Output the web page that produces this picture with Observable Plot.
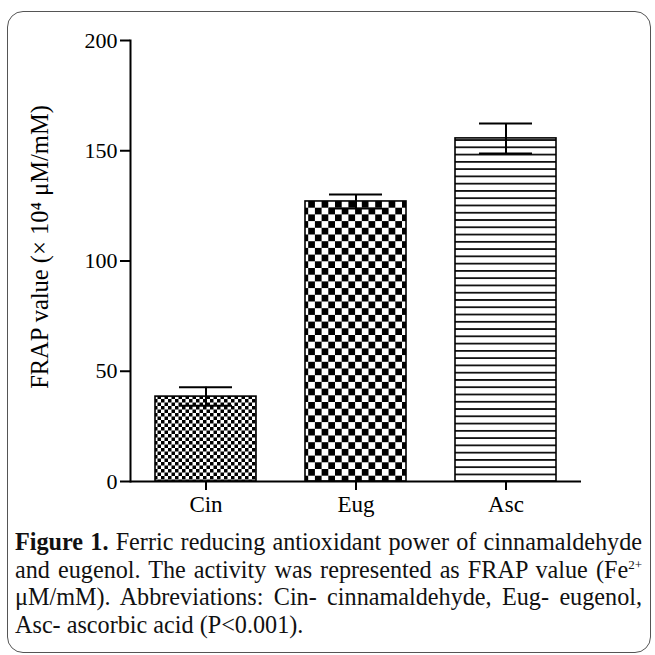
<!DOCTYPE html>
<html>
<head>
<meta charset="utf-8">
<script src="https://cdn.jsdelivr.net/npm/d3@7"></script>
<script src="https://cdn.jsdelivr.net/npm/@observablehq/plot@0.6"></script>
<style>
  html, body { margin: 0; padding: 0; background: #fff; width: 655px; height: 655px; overflow: hidden; }
  #chart { position: absolute; left: 0; top: 0; }
  #frame { position: absolute; left: 7px; top: 11px; width: 644px; height: 642px; border: 1.5px solid #555;
           border-radius: 16px; box-sizing: border-box; pointer-events: none; }
  #caption { position: absolute; left: 15px; top: 528px; width: 627px; font-family: "Liberation Serif", serif;
             font-size: 24.2px; line-height: 27.7px; color: #111; }
  #caption .j { text-align: justify; text-align-last: justify; white-space: nowrap; }
  #caption sup { font-size: 13px; line-height: 0; vertical-align: 9px; }
</style>
</head>
<body>
<div id="chart"></div>
<div id="caption">
  <div class="j"><b>Figure 1.</b> Ferric reducing antioxidant power of cinnamaldehyde</div>
  <div class="j">and eugenol. The activity was represented as FRAP value (Fe<sup>2+</sup></div>
  <div class="j">μM/mM). Abbreviations: Cin- cinnamaldehyde, Eug- eugenol,</div>
  <div>Asc- ascorbic acid (P&lt;0.001).</div>
</div>
<div id="frame"></div>
<script>
const categories = ["Cin", "Eug", "Asc"];
const means = [38.5, 127.0, 155.6];
const errors = [4.2, 3.2, 6.8];
const patterns = ["url(#pat-cin)", "url(#pat-eug)", "url(#pat-asc)"];
const yTicks = [0, 50, 100, 150, 200];
const yLabel = "FRAP value (× 10⁴ μM/mM)";

const data = categories.map((c, i) => ({
  cat: c, mean: means[i], lo: means[i] - errors[i], hi: means[i] + errors[i], pat: patterns[i]
}));

const plot = Plot.plot({
  width: 655,
  height: 500,
  marginLeft: 130,
  marginRight: 74,
  marginTop: 40,
  marginBottom: 19,
  x: { domain: categories, paddingInner: 0.327, paddingOuter: 0.163 },
  y: { domain: [0, 200] },
  color: { type: "identity" },
  style: { fontFamily: "Liberation Serif, serif", fontSize: "22px", color: "#000", background: "transparent", overflow: "visible" },
  marks: [
    Plot.barY(data, { x: "cat", y: "mean", fill: "pat", stroke: "#000", strokeWidth: 1.6 }),
    Plot.ruleX(data, { x: "cat", y1: "lo", y2: "hi", stroke: "#000", strokeWidth: 2 }),
    Plot.tickY(data, { x: "cat", y: "hi", insetLeft: 24, insetRight: 24, stroke: "#000", strokeWidth: 2 }),
    Plot.tickY(data, { x: "cat", y: "lo", insetLeft: 24, insetRight: 24, stroke: "#000", strokeWidth: 2 }),
    Plot.ruleY([0], { stroke: "#000", strokeWidth: 2 }),
    Plot.frame({ anchor: "left", stroke: "#000", strokeWidth: 2 }),
    Plot.axisY({ ticks: yTicks, tickSize: 10, tickPadding: 3, strokeWidth: 2, fontSize: 22, label: null }),
    Plot.axisX({ tickSize: 9, tickPadding: 5, strokeWidth: 2, fontSize: 23, label: null }),
    Plot.text([yLabel], { text: d => d, frameAnchor: "left", textAnchor: "middle", rotate: -90, dx: -90, dy: -14, fontSize: 24.5, fill: "#000" })
  ]
});

const svg = d3.select(plot);
const defs = svg.insert("defs", ":first-child");
// fine checkerboard
const c1 = defs.append("pattern").attr("id", "pat-cin").attr("patternUnits", "userSpaceOnUse")
  .attr("width", 7).attr("height", 7);
c1.append("rect").attr("width", 7).attr("height", 7).attr("fill", "#fff");
c1.append("rect").attr("width", 3.5).attr("height", 3.5).attr("fill", "#000");
c1.append("rect").attr("x", 3.5).attr("y", 3.5).attr("width", 3.5).attr("height", 3.5).attr("fill", "#000");
// coarse checkerboard
const c2 = defs.append("pattern").attr("id", "pat-eug").attr("patternUnits", "userSpaceOnUse")
  .attr("width", 13.4).attr("height", 13.4);
c2.append("rect").attr("width", 13.4).attr("height", 13.4).attr("fill", "#fff");
c2.append("rect").attr("width", 6.7).attr("height", 6.7).attr("fill", "#000");
c2.append("rect").attr("x", 6.7).attr("y", 6.7).attr("width", 6.7).attr("height", 6.7).attr("fill", "#000");
// horizontal lines
const c3 = defs.append("pattern").attr("id", "pat-asc").attr("patternUnits", "userSpaceOnUse")
  .attr("width", 10).attr("height", 7.27).attr("y", 1);
c3.append("rect").attr("width", 10).attr("height", 7.27).attr("fill", "#fff");
c3.append("rect").attr("width", 10).attr("height", 1.8).attr("fill", "#111");

document.getElementById("chart").appendChild(plot);
</script>
</body>
</html>
